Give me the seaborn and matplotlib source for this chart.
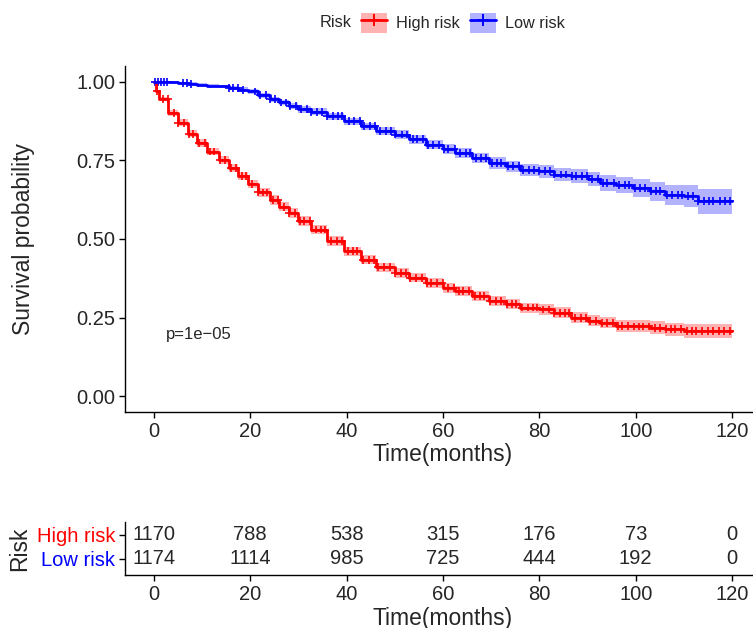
import numpy as np
import pandas as pd
import seaborn as sns
import matplotlib.pyplot as plt
from matplotlib.lines import Line2D
from matplotlib.patches import Patch

# ---- data ----
red_time = [0, 0.5, 1, 3, 5, 7, 9, 11, 13.5, 15.5, 17.5, 19.5, 21.5, 24, 26, 28, 30,
            32.5, 36, 39.5, 43, 46, 50, 53, 56.5, 60, 62.5, 66, 69.5, 73, 76, 80, 83,
            86.5, 90, 92.5, 96, 99.5, 103, 106, 110, 113, 120]
red_surv = [1.0, 0.97, 0.945, 0.90, 0.87, 0.835, 0.805, 0.778, 0.752, 0.726, 0.70,
            0.675, 0.648, 0.624, 0.603, 0.582, 0.557, 0.53, 0.493, 0.461, 0.434, 0.41,
            0.392, 0.377, 0.361, 0.345, 0.334, 0.318, 0.303, 0.292, 0.282, 0.276, 0.266,
            0.25, 0.24, 0.234, 0.223, 0.222, 0.218, 0.213, 0.207, 0.207, 0.207]
red_ci = [0.0, 0.005, 0.007, 0.009, 0.010, 0.011, 0.012, 0.012, 0.013, 0.013,
          0.014, 0.014, 0.014, 0.015, 0.015, 0.015, 0.015, 0.015, 0.015, 0.015,
          0.015, 0.015, 0.015, 0.015, 0.016, 0.016, 0.016, 0.016, 0.016, 0.016,
          0.016, 0.017, 0.017, 0.017, 0.018, 0.018, 0.019, 0.019, 0.020, 0.021,
          0.022, 0.023, 0.023]

blue_time = [0, 1, 3, 5, 7, 9, 11, 13.5, 15.5, 17.5, 19.5, 21.5, 24, 26, 28, 30,
             32.5, 36, 39.5, 43, 46, 50, 53, 56.5, 60, 62.5, 66, 69.5, 73, 76, 80, 83,
             86.5, 90, 92.5, 96, 99.5, 103, 106, 110, 113, 120]
blue_surv = [1.0, 1.0, 0.998, 0.996, 0.994, 0.99, 0.988, 0.985, 0.979, 0.975,
             0.969, 0.957, 0.945, 0.934, 0.922, 0.912, 0.905, 0.89, 0.874, 0.858,
             0.843, 0.832, 0.817, 0.80, 0.786, 0.774, 0.758, 0.742, 0.731, 0.72,
             0.715, 0.705, 0.70, 0.69, 0.678, 0.672, 0.662, 0.652, 0.641, 0.636,
             0.62, 0.62]
blue_ci = [0.0, 0.002, 0.003, 0.003, 0.004, 0.005, 0.005, 0.006, 0.006, 0.007,
           0.007, 0.008, 0.008, 0.009, 0.009, 0.010, 0.010, 0.011, 0.012, 0.012,
           0.013, 0.013, 0.014, 0.015, 0.016, 0.016, 0.017, 0.018, 0.018, 0.019,
           0.020, 0.021, 0.022, 0.023, 0.024, 0.026, 0.028, 0.030, 0.032, 0.035,
           0.040, 0.040]

# censoring times (the "+" marks)
red_censor = [0.6, 1.8, 2.9, 4.1, 5.0, 6.2, 7.3, 8.1, 9.4, 10.5, 11.6, 12.4, 13.7,
              14.8, 15.9, 17.0, 18.2, 19.1, 20.3, 21.5, 22.6, 23.4, 24.7, 25.8, 26.9,
              28.0, 29.2, 30.3, 31.1, 32.4, 33.6, 34.7, 35.5, 36.8, 37.9, 39.0, 40.2,
              41.3, 42.1, 43.4, 44.6, 45.7, 46.5, 47.8, 48.9, 50.0, 51.2, 52.3, 53.1,
              54.4, 55.6, 56.7, 57.5, 58.8, 59.9, 61.0, 62.2, 63.3, 64.1, 65.4, 66.6,
              67.7, 68.5, 69.8, 70.9, 72.0, 73.2, 74.3, 75.1, 76.4, 77.6, 78.7, 79.5,
              80.8, 81.9, 83.0, 84.2, 85.3, 86.1, 87.4, 88.6, 89.7, 90.5, 91.8, 92.9,
              94.0, 95.2, 96.3, 97.1, 98.4, 99.6, 100.7, 101.5, 102.8, 103.9, 105.0,
              106.2, 107.3, 108.1, 109.4, 110.6, 111.7, 112.5, 113.8, 114.9, 116.0,
              117.2, 118.3, 119.5]
blue_censor = [0.3, 0.9, 1.5, 2.1, 2.7, 6.0, 6.9, 7.8, 15.6, 16.5, 17.4, 18.4,
               21.0, 22.1, 23.2, 24.0, 25.1, 26.3, 27.4, 28.2, 29.5, 30.6, 31.7, 32.5,
               33.8, 34.9, 36.0, 37.2, 38.3, 39.1, 40.4, 41.6, 42.7, 43.5, 44.8, 45.9,
               47.0, 48.2, 49.3, 50.1, 51.4, 52.6, 53.7, 54.5, 55.8, 56.9, 58.0, 59.2,
               60.3, 61.1, 62.4, 63.6, 64.7, 65.5, 66.8, 67.9, 69.0, 70.2, 71.3, 72.1,
               73.4, 74.6, 75.7, 76.5, 77.8, 78.9, 80.0, 81.2, 82.3, 83.1, 84.4, 85.6,
               86.7, 87.5, 88.8, 89.9, 91.0, 92.2, 93.3, 94.1, 95.4, 96.6, 97.7, 98.5,
               99.8, 100.9, 102.0, 103.2, 104.3, 105.1, 106.4, 107.6, 108.7, 109.5,
               110.8, 111.9, 113.0, 114.2, 115.3, 116.1, 117.4, 118.6, 119.6]

groups = ["High risk", "Low risk"]
colors = {"High risk": "#FF0000", "Low risk": "#0000FF"}

risk_times = [0, 20, 40, 60, 80, 100, 120]
n_high = [1170, 788, 538, 315, 176, 73, 0]
n_low = [1174, 1114, 985, 725, 444, 192, 0]

# ---- build tables ----
curves = pd.concat([
    pd.DataFrame({"time": red_time, "surv": red_surv, "ci": red_ci, "Risk": "High risk"}),
    pd.DataFrame({"time": blue_time, "surv": blue_surv, "ci": blue_ci, "Risk": "Low risk"}),
])


def censor_frame(times, surv, cens, name):
    # survival value of the step at each censoring time
    idx = np.searchsorted(times, cens, side="right") - 1
    return pd.DataFrame({"time": cens, "surv": np.asarray(surv)[idx], "Risk": name})


marks = pd.concat([
    censor_frame(red_time, red_surv, red_censor, "High risk"),
    censor_frame(blue_time, blue_surv, blue_censor, "Low risk"),
])

sns.set_style("ticks")
plt.rcParams['font.family'] = ['Liberation Sans', 'DejaVu Sans']

fig = plt.figure(figsize=(7.53, 6.28), dpi=100)

# ---- survival curves ----
ax = fig.add_axes([125 / 753, 216 / 628, 636 / 753, 346 / 628])
for g in groups:
    d = curves[curves["Risk"] == g]
    ax.fill_between(d["time"], d["surv"] - d["ci"], d["surv"] + d["ci"],
                    step="post", color=colors[g], alpha=0.3, lw=0)
sns.lineplot(data=curves, x="time", y="surv", hue="Risk", palette=colors,
             estimator=None, drawstyle="steps-post", lw=2, legend=False, ax=ax)
sns.scatterplot(data=marks, x="time", y="surv", hue="Risk", palette=colors,
                marker="+", s=32, linewidth=1.2, legend=False, ax=ax)

ax.text(2.5, 0.197, "p=1e\u221205", fontsize=12, va="center", ha="left")

ax.set_xlim(-6, 126)
ax.set_ylim(-0.05, 1.05)
ax.set_xticks(risk_times)
ax.set_yticks([0, 0.25, 0.5, 0.75, 1.0])
ax.set_yticklabels(["0.00", "0.25", "0.50", "0.75", "1.00"])
ax.set_xlabel("Time(months)", fontsize=16.5, labelpad=2)
ax.set_ylabel("Survival probability", fontsize=16.5, labelpad=30)
ax.tick_params(labelsize=14.5, length=4, width=1, color="black", pad=3)
sns.despine(ax=ax)
for s in ["left", "bottom"]:
    ax.spines[s].set_color("black")
    ax.spines[s].set_linewidth(1)

# ---- legend ----
handles = [(Patch(facecolor=colors[g], alpha=0.3, lw=0),
            Line2D([], [], color=colors[g], lw=2, marker="+", ms=8, mew=1.4))
           for g in groups]
fig.legend(handles, groups, loc="center", bbox_to_anchor=(463 / 753, 1 - 22.7 / 628),
           ncol=2, frameon=False, fontsize=11.7, handlelength=1.6, handleheight=1.5,
           handletextpad=0.55, columnspacing=0.65, borderpad=0)
fig.text(320 / 753, 1 - 22.7 / 628, "Risk", fontsize=11.7, va="center", ha="left")

# ---- number-at-risk table ----
ax2 = fig.add_axes([125 / 753, 53 / 628, 636 / 753, 53.3 / 628])
for t, nh, nl in zip(risk_times, n_high, n_low):
    ax2.text(t, 1, str(nh), ha="center", va="center", fontsize=14.5)
    ax2.text(t, 0, str(nl), ha="center", va="center", fontsize=14.5)
ax2.set_xlim(-6, 126)
ax2.set_ylim(-0.67, 1.55)
ax2.set_xticks(risk_times)
ax2.set_yticks([1, 0])
ax2.set_yticklabels(groups)
for lab, g in zip(ax2.get_yticklabels(), groups):
    lab.set_color(colors[g])
ax2.set_xlabel("Time(months)", fontsize=16.5, labelpad=2)
ax2.set_ylabel("Risk", fontsize=16.5, labelpad=4)
ax2.tick_params(labelsize=14.5, length=4, width=1, color="black", pad=3)
sns.despine(ax=ax2)
for s in ["left", "bottom"]:
    ax2.spines[s].set_color("black")
    ax2.spines[s].set_linewidth(1)

fig.savefig("out.png", dpi=100)
